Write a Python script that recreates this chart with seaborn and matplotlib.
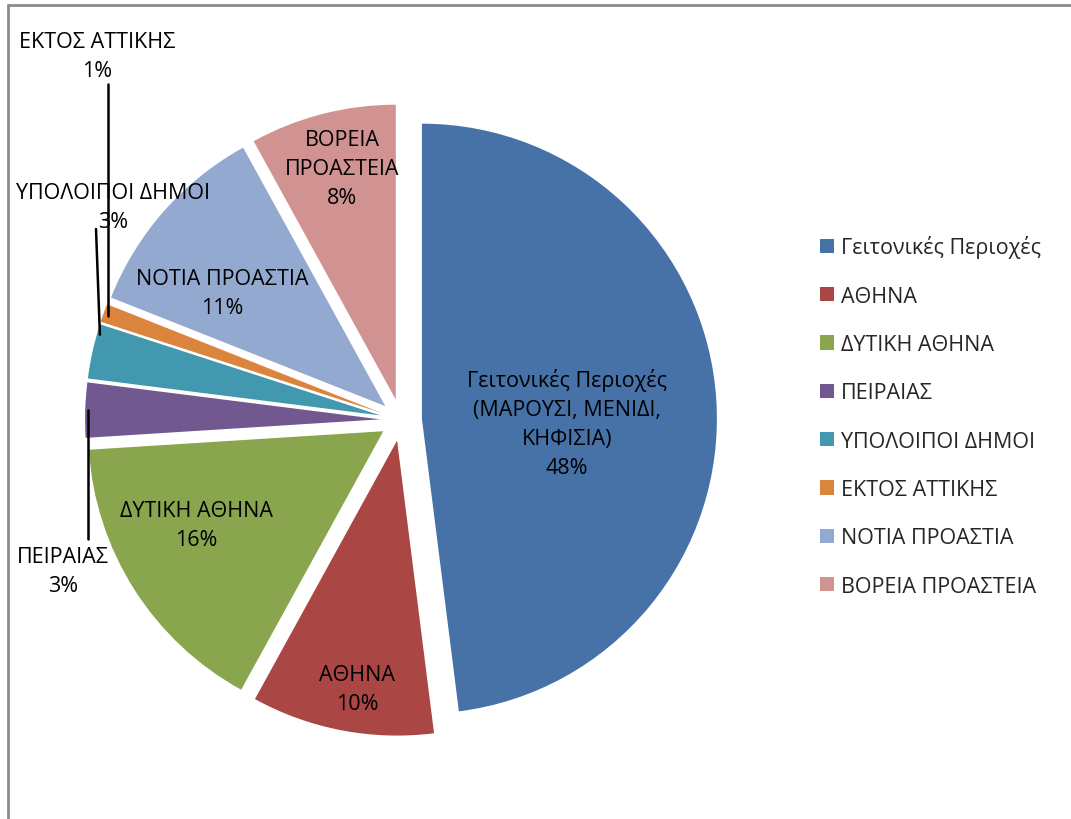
import matplotlib
matplotlib.use("Agg")
import matplotlib.pyplot as plt
from matplotlib.lines import Line2D
import numpy as np
import seaborn as sns

# data
regions = [
    "Γειτονικές Περιοχές",
    "ΑΘΗΝΑ",
    "ΔΥΤΙΚΗ ΑΘΗΝΑ",
    "ΠΕΙΡΑΙΑΣ",
    "ΥΠΟΛΟΙΠΟΙ ΔΗΜΟΙ",
    "ΕΚΤΟΣ ΑΤΤΙΚΗΣ",
    "ΝΟΤΙΑ ΠΡΟΑΣΤΙΑ",
    "ΒΟΡΕΙΑ ΠΡΟΑΣΤΕΙΑ",
]
shares = [48, 10, 16, 3, 3, 1, 11, 8]
slice_labels = [
    "Γειτονικές Περιοχές\n(ΜΑΡΟΥΣΙ, ΜΕΝΙΔΙ,\nΚΗΦΙΣΙΑ)",
    "ΑΘΗΝΑ",
    "ΔΥΤΙΚΗ ΑΘΗΝΑ",
    "ΠΕΙΡΑΙΑΣ",
    "ΥΠΟΛΟΙΠΟΙ ΔΗΜΟΙ",
    "ΕΚΤΟΣ ΑΤΤΙΚΗΣ",
    "ΝΟΤΙΑ ΠΡΟΑΣΤΙΑ",
    "ΒΟΡΕΙΑ\nΠΡΟΑΣΤΕΙΑ",
]
palette = sns.color_palette([
    "#4672a8", "#aa4644", "#89a54e", "#71588f",
    "#4198af", "#db843d", "#93a9cf", "#d19392",
])

sns.set_theme(style="white")
plt.rcParams["font.family"] = ["Open Sans", "DejaVu Sans"]

W, H = 1071, 820
CX, CY, R = 401, 421, 295   # pie centre / radius in pixels


def px(x, y):
    # pixel position (top-left origin) -> data units (radius = 1)
    return (x - CX) / R, (CY - y) / R


fig = plt.figure(figsize=(W / 100, H / 100), dpi=100)
fig.patch.set_facecolor("white")
ax = fig.add_axes([0, 0, 1, 1])

wedges, _ = ax.pie(
    shares,
    colors=palette,
    startangle=90,
    counterclock=False,
    explode=[0.071] * len(shares),
    radius=1,
    wedgeprops=dict(linewidth=0),
)
ax.set_xlim(-CX / R, (W - CX) / R)
ax.set_ylim(-(H - CY) / R, CY / R)
ax.set_aspect("auto")
ax.axis("off")

fs = 15.5
# label positions (pixel centres) for each slice
label_pos = [
    (567, 424),
    (357, 690),
    (196, 526),
    (63, 572),
    (113, 208),
    (97, 57),
    (222, 294),
    (342, 170),
]
for lab, val, pos in zip(slice_labels, shares, label_pos):
    ax.text(*px(*pos), f"{lab}\n{val}%", ha="center", va="center",
            fontsize=fs, linespacing=1.5, color="black")

# leader lines for the thin slices: label -> (angle fraction, radius)
leaders = {5: ((108, 85), 0.5, 0.97), 4: ((96, 230), 0.18, 0.99),
           3: ((88, 540), 0.5, 0.99)}
for i, ((lx, ly), frac, rr) in leaders.items():
    w = wedges[i]
    tm = np.deg2rad(w.theta1 + frac * (w.theta2 - w.theta1))
    ex = w.center[0] + rr * w.r * np.cos(tm)
    ey = w.center[1] + rr * w.r * np.sin(tm)
    sx, sy = px(lx, ly)
    ax.plot([sx, ex if i == 4 else sx], [sy, ey], color="black", lw=1.8)

ax.legend(
    wedges, regions,
    loc="upper left",
    bbox_to_anchor=(801 / W, 1 - 217 / H),
    bbox_transform=fig.transFigure,
    frameon=False,
    fontsize=fs,
    handlelength=0.65,
    handleheight=0.65,
    handletextpad=0.3,
    labelspacing=1.27,
)

# chart area border (left and top)
fig.add_artist(Line2D([8 / W, 8 / W], [0, 1 - 6 / H], color="#8c8c8c",
                      lw=2, transform=fig.transFigure))
fig.add_artist(Line2D([8 / W, 1], [1 - 6 / H, 1 - 6 / H], color="#8c8c8c",
                      lw=2, transform=fig.transFigure))

fig.savefig("out.png", dpi=100)
